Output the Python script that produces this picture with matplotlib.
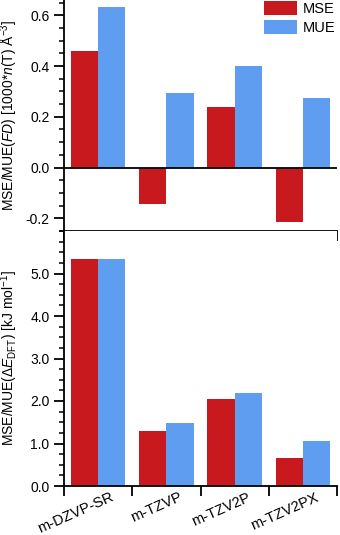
import numpy as np
import matplotlib
matplotlib.use("Agg")
import matplotlib.pyplot as plt
from matplotlib.ticker import MultipleLocator, FixedLocator, FormatStrFormatter
from matplotlib.transforms import ScaledTranslation

plt.rcParams['font.family'] = ['Liberation Sans', 'DejaVu Sans']
plt.rcParams['font.size'] = 10
plt.rcParams['axes.unicode_minus'] = False
plt.rcParams['mathtext.fontset'] = 'custom'
plt.rcParams['mathtext.rm'] = 'Liberation Sans'
plt.rcParams['mathtext.it'] = 'Liberation Sans:italic'

# basis sets
labels = ["m-DZVP-SR", "m-TZVP", "m-TZV2P", "m-TZV2PX"]

# top panel: fragment density errors
fd_mse = [0.461, -0.143, 0.240, -0.215]
fd_mue = [0.631, 0.295, 0.400, 0.273]

# bottom panel: energy errors (kJ/mol)
e_mse = [5.33, 1.30, 2.05, 0.67]
e_mue = [5.33, 1.49, 2.20, 1.05]

RED = "#C8191F"
BLUE = "#5E9DF0"

fig = plt.figure(figsize=(3.4, 5.35), dpi=100)
left, right = 64 / 340, 337 / 340
mid = 1 - 231 / 535
bot = 1 - 486 / 535
ax1 = fig.add_axes([left, mid, right - left, 1 - mid])
ax2 = fig.add_axes([left, bot, right - left, mid - bot])

x = np.arange(len(labels))
w = 0.4


def style(ax):
    ax.spines['top'].set_visible(False)
    ax.spines['right'].set_visible(False)
    for s in ('left', 'bottom'):
        ax.spines[s].set_linewidth(1.3)
    ax.tick_params(axis='both', which='major', direction='out', length=7, width=1.3, labelsize=10)
    ax.tick_params(axis='y', which='minor', direction='out', length=3.5, width=1.1)
    ax.set_xlim(-0.5, len(labels) - 0.5)
    ax.xaxis.set_major_locator(FixedLocator(np.arange(len(labels) + 1) - 0.5))


# top
ax1.bar(x - w / 2, fd_mse, w, color=RED, label="MSE")
ax1.bar(x + w / 2, fd_mue, w, color=BLUE, label="MUE")
ax1.axhline(0, color="black", lw=1.3)
style(ax1)
ax1.set_ylim(-0.25, 0.66)
ax1.set_yticks([-0.2, 0.0, 0.2, 0.4, 0.6])
ax1.yaxis.set_major_formatter(FormatStrFormatter('%.1f'))
ax1.yaxis.set_minor_locator(MultipleLocator(0.05))
ax1.set_xticklabels([])
ax1.set_ylabel(r"MSE/MUE($\it{FD}$) [1000*$\it{n}$(T) Å$^{-3}$]", fontsize=10)
ax1.yaxis.set_label_coords(-0.16, 0.5)
ax1.legend(loc="upper right", bbox_to_anchor=(1.0, 1.0), frameon=False,
           borderaxespad=0, borderpad=0.1, handlelength=2.3, handleheight=1.1,
           handletextpad=0.4, labelspacing=0.25, fontsize=10.5)

# bottom
ax2.bar(x - w / 2, e_mse, w, color=RED)
ax2.bar(x + w / 2, e_mue, w, color=BLUE)
style(ax2)
ax2.set_ylim(0, 6.0)
ax2.set_yticks([0, 1, 2, 3, 4, 5])
ax2.yaxis.set_major_formatter(FormatStrFormatter('%.1f'))
ax2.yaxis.set_minor_locator(MultipleLocator(0.25))
ax2.set_xticklabels([])
ax2.xaxis.set_minor_locator(FixedLocator(x))
ax2.set_xticks(x, labels, minor=True, rotation=24, ha="right", rotation_mode="anchor",
               fontsize=10.5)
ax2.tick_params(axis='x', which='minor', length=0, pad=3)
for t in ax2.get_xticklabels(minor=True):
    t.set_transform(t.get_transform() + ScaledTranslation(12 / 100, 0, fig.dpi_scale_trans))
ax2.set_ylabel(r"MSE/MUE($\Delta\it{E}_{\rm{DFT}}$) [kJ mol$^{-1}$]", fontsize=10)
ax2.yaxis.set_label_coords(-0.16, 0.5)

fig.savefig("out.png", dpi=100)
